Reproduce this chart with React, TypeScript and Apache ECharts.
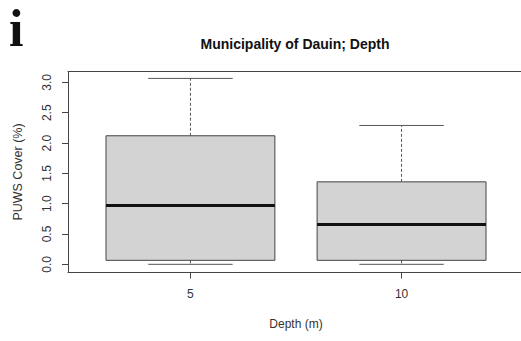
import React, { useEffect, useRef } from "react";
import * as echarts from "echarts";

const depths = ["5", "10"];
const mins = [0, 0];
const q1s = [0.066, 0.066];
const medians = [0.97, 0.655];
const q3s = [2.12, 1.36];
const maxs = [3.066, 2.29];
const yTicks = [0, 0.5, 1, 1.5, 2, 2.5, 3];

const FONT = "Liberation Sans";

export default function App() {
  const ref = useRef<HTMLDivElement>(null);
  useEffect(() => {
    const chart = echarts.init(ref.current!, null, { renderer: "svg" });
    const data = depths.map((_, i) => [i + 1, mins[i], q1s[i], medians[i], q3s[i], maxs[i]]);
    const frameLine = { show: true, lineStyle: { color: "#444", width: 1 } };
    const option: any = {
      animation: false,
      backgroundColor: "#ffffff",
      textStyle: { fontFamily: FONT },
      grid: { left: 68, top: 71.5, width: 456, height: 201, show: false, containLabel: false, outerBoundsMode: "none" },
      xAxis: [
        {
          type: "value",
          min: 0.42,
          max: 2.58,
          position: "bottom",
          splitLine: { show: false },
          axisLine: { ...frameLine, onZero: false },
          axisTick: { show: true, length: 6, customValues: depths.map((_, i) => i + 1), lineStyle: { color: "#444" } },
          axisLabel: {
            customValues: depths.map((_, i) => i + 1),
            formatter: (v: number) => depths[Math.round(v) - 1] ?? "",
            fontSize: 12, color: "#333", margin: 15, fontFamily: FONT,
          },
          name: "Depth (m)",
          nameLocation: "middle",
          nameGap: 45,
          nameTextStyle: { fontSize: 12, color: "#333", fontFamily: FONT },
        },
        {
          type: "value",
          min: 0.42,
          max: 2.58,
          position: "top",
          splitLine: { show: false },
          axisLine: { ...frameLine, onZero: false },
          axisTick: { show: false },
          axisLabel: { show: false },
        },
      ],
      yAxis: {
        type: "value",
        min: -0.135,
        max: 3.18,
        splitLine: { show: false },
        axisLine: { ...frameLine, onZero: false },
        axisTick: { show: true, length: 6, customValues: yTicks, lineStyle: { color: "#444" } },
        axisLabel: {
          customValues: yTicks,
          formatter: (v: number) => v.toFixed(1),
          rotate: 90, fontSize: 12, color: "#333", margin: 15, fontFamily: FONT,
        },
        name: "PUWS Cover (%)",
        nameLocation: "middle",
        nameGap: 44,
        nameTextStyle: { fontSize: 12.5, color: "#333", fontFamily: FONT },
      },
      graphic: [
        { type: "text", left: 9, top: 2, style: { text: "i", font: "bold 52px 'Liberation Serif'", fill: "#111" } },
        { type: "text", x: 295, y: 44, style: { text: "Municipality of Dauin; Depth", font: `bold 14px '${FONT}'`, fill: "#111", align: "center", verticalAlign: "middle" } },
      ],
      series: [
        {
          type: "custom",
          data,
          xAxisIndex: 0,
          encode: { x: 0, y: [1, 2, 3, 4, 5] },
          renderItem: (params: any, api: any) => {
            const x = api.value(0);
            const vMin = api.value(1), vQ1 = api.value(2), vMed = api.value(3), vQ3 = api.value(4), vMax = api.value(5);
            const pL = api.coord([x - 0.4, vQ3]);
            const pR = api.coord([x + 0.4, vQ1]);
            const cL = api.coord([x - 0.2, 0])[0];
            const cR = api.coord([x + 0.2, 0])[0];
            const cx = api.coord([x, 0])[0];
            const yMin = api.coord([x, vMin])[1];
            const yQ1 = api.coord([x, vQ1])[1];
            const yMed = api.coord([x, vMed])[1];
            const yQ3 = api.coord([x, vQ3])[1];
            const yMax = api.coord([x, vMax])[1];
            const dash = { stroke: "#555", lineWidth: 1, lineDash: [3, 2] };
            const solid = { stroke: "#555", lineWidth: 1 };
            return {
              type: "group",
              children: [
                { type: "line", shape: { x1: cx, y1: yQ3, x2: cx, y2: yMax }, style: dash },
                { type: "line", shape: { x1: cx, y1: yQ1, x2: cx, y2: yMin }, style: dash },
                { type: "line", shape: { x1: cL, y1: yMax, x2: cR, y2: yMax }, style: solid },
                { type: "line", shape: { x1: cL, y1: yMin, x2: cR, y2: yMin }, style: solid },
                { type: "rect", shape: { x: pL[0], y: pL[1], width: pR[0] - pL[0], height: pR[1] - pL[1] }, style: { fill: "#d3d3d3", stroke: "#444", lineWidth: 1 } },
                { type: "line", shape: { x1: pL[0], y1: yMed, x2: pR[0], y2: yMed }, style: { stroke: "#111", lineWidth: 3 } },
              ],
            };
          },
        },
      ],
    };
    chart.setOption(option);
    return () => chart.dispose();
  }, []);
  return <div ref={ref} style={{ position: "fixed", left: 0, top: 0, width: 521, height: 341, background: "#fff" }} />;
}
